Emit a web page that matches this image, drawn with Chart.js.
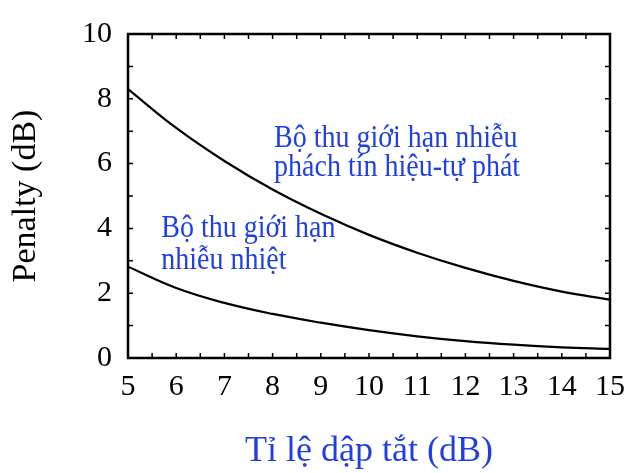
<!DOCTYPE html>
<html>
<head>
<meta charset="utf-8">
<script src="https://cdn.jsdelivr.net/npm/chart.js@4.4.0/dist/chart.umd.min.js"></script>
<style>
  html, body { margin: 0; padding: 0; background: #fff; }
  canvas { display: block; }
</style>
</head>
<body>
<canvas id="graficoPenalty" width="636" height="473"></canvas>
<script>
// du lieu doc tu hinh
const tiLeDapTat = [5, 6, 7, 8, 9, 10, 11, 12, 13, 14, 15];
const penaltyPhach = [8.3, 7.1, 6.08, 5.2, 4.45, 3.8, 3.25, 2.78, 2.38, 2.05, 1.8];
const penaltyNhiet = [2.82, 2.16, 1.7, 1.36, 1.09, 0.86, 0.67, 0.52, 0.41, 0.33, 0.28];
const nhanTrucX = [5, 6, 7, 8, 9, 10, 11, 12, 13, 14, 15];
const nhanTrucY = [0, 2, 4, 6, 8, 10];
const chuThich = [
  ['Bộ thu giới hạn nhiễu', 'phách tín hiệu-tự phát'],
  ['Bộ thu giới hạn', 'nhiễu nhiệt']
];

const XANH = '#1f3fe3';
const FONT = "'Liberation Serif', 'Times New Roman', serif";

// viet chu hoi keo dai theo chieu doc nhu hinh goc
function vietChu(ctx, text, x, y) {
  ctx.save();
  ctx.translate(x, y);
  ctx.scale(1, 1.1);
  ctx.fillText(text, 0, 0);
  ctx.restore();
}

// khung, vach chia ben trong va chu thich
const khungPlugin = {
  id: 'khung',
  afterDatasetsDraw(chart) {
    const { ctx, chartArea: a, scales: { x, y } } = chart;
    ctx.save();
    ctx.strokeStyle = '#000';
    ctx.lineWidth = 1.5;
    ctx.beginPath();
    for (let v = 5; v <= 15; v += 0.5) {
      const px = x.getPixelForValue(v);
      ctx.moveTo(px, a.bottom); ctx.lineTo(px, a.bottom - 5);
      ctx.moveTo(px, a.top); ctx.lineTo(px, a.top + 5);
    }
    for (let v = 0; v <= 10; v += 1) {
      const py = y.getPixelForValue(v);
      ctx.moveTo(a.left, py); ctx.lineTo(a.left + 5, py);
      ctx.moveTo(a.right, py); ctx.lineTo(a.right - 5, py);
    }
    ctx.stroke();
    ctx.lineWidth = 2.5;
    ctx.strokeRect(a.left, a.top, a.right - a.left, a.bottom - a.top);

    ctx.fillStyle = XANH;
    ctx.font = '28px ' + FONT;
    ctx.textBaseline = 'alphabetic';
    ctx.textAlign = 'left';
    const x1 = x.getPixelForValue(8.03);
    vietChu(ctx, chuThich[0][0], x1, y.getPixelForValue(6.51));
    vietChu(ctx, chuThich[0][1], x1, y.getPixelForValue(5.62));
    const x2 = x.getPixelForValue(5.69);
    vietChu(ctx, chuThich[1][0], x2, y.getPixelForValue(3.73));
    vietChu(ctx, chuThich[1][1], x2, y.getPixelForValue(2.75));
    ctx.restore();
  }
};

const ctx = document.getElementById('graficoPenalty').getContext('2d');
new Chart(ctx, {
  type: 'line',
  data: {
    labels: tiLeDapTat,
    datasets: [{
      label: 'Phách tín hiệu-tự phát',
      data: tiLeDapTat.map((t, i) => ({ x: t, y: penaltyPhach[i] })),
      borderColor: '#000',
      borderWidth: 2.2,
      pointRadius: 0,
      tension: 0.4
    }, {
      label: 'Nhiễu nhiệt',
      data: tiLeDapTat.map((t, i) => ({ x: t, y: penaltyNhiet[i] })),
      borderColor: '#000',
      borderWidth: 2.2,
      pointRadius: 0,
      tension: 0.4
    }]
  },
  options: {
    responsive: false,
    animation: false,
    layout: { padding: { left: 0, top: 20, right: 16, bottom: 0 } },
    plugins: { legend: { display: false }, tooltip: { enabled: false } },
    scales: {
      x: {
        type: 'linear',
        min: 5, max: 15,
        grid: { display: false, drawTicks: false },
        border: { display: false },
        afterBuildTicks: s => { s.ticks = nhanTrucX.map(v => ({ value: v })); },
        afterFit: s => { s.height = 115; },
        ticks: { color: '#000', padding: 11, font: { family: FONT, size: 30 }, maxRotation: 0 },
        title: {
          display: true,
          text: 'Tỉ lệ dập tắt (dB)',
          color: XANH,
          padding: { top: 0, bottom: 0 },
          font: { family: FONT, size: 36 }
        }
      },
      y: {
        min: 0, max: 10,
        grid: { display: false, drawTicks: false },
        border: { display: false },
        afterBuildTicks: s => { s.ticks = nhanTrucY.map(v => ({ value: v })); },
        afterFit: s => { s.width = 128; },
        ticks: { color: '#000', padding: 16, font: { family: FONT, size: 30 } },
        title: {
          display: true,
          text: 'Penalty (dB)',
          color: '#000',
          padding: { top: 6, bottom: 0 },
          font: { family: FONT, size: 34 }
        }
      }
    }
  },
  plugins: [khungPlugin]
});
</script>
</body>
</html>
